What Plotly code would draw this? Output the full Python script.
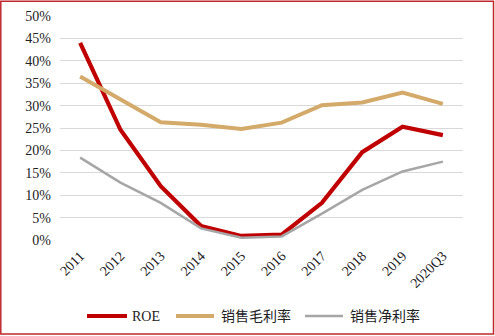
import plotly.graph_objects as go

years = ["2011", "2012", "2013", "2014", "2015", "2016", "2017", "2018", "2019", "2020Q3"]
roe = [0.440, 0.246, 0.120, 0.031, 0.009, 0.012, 0.083, 0.196, 0.253, 0.234]
gross_margin = [0.365, 0.315, 0.263, 0.257, 0.248, 0.262, 0.301, 0.307, 0.329, 0.304]
net_margin = [0.184, 0.128, 0.083, 0.026, 0.005, 0.008, 0.059, 0.112, 0.153, 0.175]

series = [
    ("ROE", roe, "#C00000", 4.2),
    ("销售毛利率", gross_margin, "#D4AA6A", 4),
    ("销售净利率", net_margin, "#A6A6A6", 2.5),
]

# plot area: 403 x 224 px, offset 60 px from left and 16 px from top
W, H = 495, 336
pw, ph = 403, 224
left, top = 60, 16
bottom_px = top + ph

def px_x(v):
    return (v - left) / pw

def px_y(v):
    return (bottom_px - v) / ph

fig = go.Figure()
for name, vals, color, width in series:
    fig.add_trace(go.Scatter(
        x=years, y=vals, name=name, mode="lines",
        line=dict(color=color, width=width),
        showlegend=False,
    ))

shapes = [dict(
    type="rect", xref="paper", yref="paper",
    x0=px_x(0.8), x1=px_x(493.5), y0=px_y(334), y1=px_y(1.2),
    line=dict(color="#C0282D", width=1.5), fillcolor="rgba(0,0,0,0)",
    layer="above",
)]
annotations = []

# legend row: swatch line followed by its label
legend_y = 316
legend_slots = [(87, 127, 130), (176, 214, 219), (305, 343, 348)]
for (name, _, color, width), (lx0, lx1, tx) in zip(series, legend_slots):
    shapes.append(dict(
        type="line", xref="paper", yref="paper",
        x0=px_x(lx0), x1=px_x(lx1), y0=px_y(legend_y), y1=px_y(legend_y),
        line=dict(color=color, width=width),
    ))
    annotations.append(dict(
        text=name, xref="paper", yref="paper",
        x=px_x(tx), y=px_y(legend_y), xanchor="left", yanchor="middle",
        showarrow=False,
        font=dict(family="Liberation Serif, Noto Sans CJK SC", size=14, color="#222222"),
    ))

fig.update_layout(
    width=W, height=H,
    margin=dict(l=left, r=W - left - pw, t=top, b=H - bottom_px, autoexpand=False),
    paper_bgcolor="white", plot_bgcolor="white",
    font=dict(family="Liberation Serif, Noto Sans CJK SC", size=14, color="#222222"),
    showlegend=False,
    shapes=shapes,
    annotations=annotations,
    xaxis=dict(
        type="category", range=[-0.5, 9.5], automargin=False,
        tickangle=-45, showgrid=False, zeroline=False,
        showline=False, ticks="", tickfont=dict(size=14),
        ticklabelstandoff=4,
    ),
    yaxis=dict(
        range=[0, 0.5], dtick=0.05, tickformat=".0%", automargin=False,
        showgrid=True, gridcolor="#D9D9D9", gridwidth=1.2,
        zeroline=False, showline=False, ticks="",
        tickfont=dict(size=14), ticklabelstandoff=8,
    ),
)

fig.write_html("out.html")
